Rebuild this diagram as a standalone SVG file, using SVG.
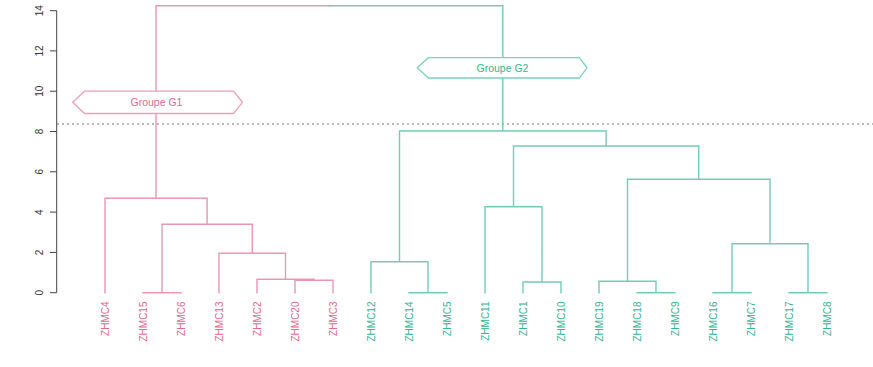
<svg xmlns="http://www.w3.org/2000/svg" width="873" height="367" viewBox="0 0 873 367">
<style>
text{font-family:"Liberation Sans",Arial,sans-serif}
.ax{stroke:#444;stroke-width:1;fill:none}
.tl{font-size:10px;fill:#333;text-anchor:middle}
.p{stroke:#ea97b0;stroke-width:1.4;fill:none;stroke-linecap:square}
.t{stroke:#72cbb6;stroke-width:1.4;fill:none;stroke-linecap:square}
.lp{font-size:10px;fill:#de6890;text-anchor:end}
.lt{font-size:10px;fill:#36b394;text-anchor:end}
.bp{fill:#fff;stroke:#ef9fb7;stroke-width:1.3}
.bt{fill:#fff;stroke:#7dd0bd;stroke-width:1.3}
.gp{font-size:10.5px;fill:#de6890;text-anchor:middle}
.gt{font-size:10.5px;fill:#36b394;text-anchor:middle}
</style>
<rect width="873" height="367" fill="#fff"/>
<g id="axis">
<path class="ax" d="M56.7,10.7V292.7M50,292.7H56.7M50,252.4H56.7M50,212.1H56.7M50,171.8H56.7M50,131.5H56.7M50,91.2H56.7M50,50.9H56.7M50,10.7H56.7"/>
<text class="tl" transform="translate(42.5,292.7) rotate(-90)">0</text>
<text class="tl" transform="translate(42.5,252.4) rotate(-90)">2</text>
<text class="tl" transform="translate(42.5,212.1) rotate(-90)">4</text>
<text class="tl" transform="translate(42.5,171.8) rotate(-90)">6</text>
<text class="tl" transform="translate(42.5,131.5) rotate(-90)">8</text>
<text class="tl" transform="translate(42.5,91.2) rotate(-90)">10</text>
<text class="tl" transform="translate(42.5,50.9) rotate(-90)">12</text>
<text class="tl" transform="translate(42.5,10.7) rotate(-90)">14</text>
</g>
<path id="cut" d="M57,124H873" stroke="#777" stroke-width="1.2" stroke-dasharray="2,3" fill="none"/>
<g id="connectors">
<path class="p" d="M156,5.7H329.4M156,5.7V198.3M105,198.3H207.1M105,198.3V292.7M207.1,198.3V224.3M162,224.3H252.3M162,224.3V292.7M143,292.7H181M252.3,224.3V253.3M219,253.3H285.5M219,253.3V292.7M285.5,253.3V279.3M257,279.3H314M257,279.3V292.7M314,279.3V280.3M295,280.3H333M295,280.3V292.7M333,280.3V292.7"/>
<path class="t" d="M329.4,5.7H502.8M502.8,5.7V131M399.5,131H606.1M399.5,131V261.7M371,261.7H428M371,261.7V292.7M428,261.7V292.7M409,292.7H447M606.1,131V146M513.5,146H698.7M513.5,146V206.7M485,206.7H542M485,206.7V292.7M542,206.7V282M523,282H561M523,282V292.7M561,282V292.7M698.7,146V179.3M627.5,179.3H770M627.5,179.3V281.3M599,281.3H656M599,281.3V292.7M656,281.3V292.7M637,292.7H675M770,179.3V243.7M732,243.7H808M732,243.7V292.7M808,243.7V292.7M713,292.7H751M789,292.7H827"/>
</g>
<g id="groupe-g1">
<polygon class="bp" points="72.7,102.3 84.5,91.2 233.5,91.2 242.5,102.3 233.5,113.5 84.5,113.5"/>
<text class="gp" x="156.5" y="106">Groupe G1</text>
</g>
<g id="groupe-g2">
<polygon class="bt" points="417.3,67.8 428.5,57.7 579.5,57.7 587,67.8 579.5,78 428.5,78"/>
<text class="gt" x="502.5" y="71.5">Groupe G2</text>
</g>
<g id="ZHMC4"><text class="lp" transform="translate(108.6,301.5) rotate(-90)">ZHMC4</text></g>
<g id="ZHMC15"><text class="lp" transform="translate(146.6,301.5) rotate(-90)">ZHMC15</text></g>
<g id="ZHMC6"><text class="lp" transform="translate(184.6,301.5) rotate(-90)">ZHMC6</text></g>
<g id="ZHMC13"><text class="lp" transform="translate(222.6,301.5) rotate(-90)">ZHMC13</text></g>
<g id="ZHMC2"><text class="lp" transform="translate(260.6,301.5) rotate(-90)">ZHMC2</text></g>
<g id="ZHMC20"><text class="lp" transform="translate(298.6,301.5) rotate(-90)">ZHMC20</text></g>
<g id="ZHMC3"><text class="lp" transform="translate(336.6,301.5) rotate(-90)">ZHMC3</text></g>
<g id="ZHMC12"><text class="lt" transform="translate(374.6,301.5) rotate(-90)">ZHMC12</text></g>
<g id="ZHMC14"><text class="lt" transform="translate(412.6,301.5) rotate(-90)">ZHMC14</text></g>
<g id="ZHMC5"><text class="lt" transform="translate(450.6,301.5) rotate(-90)">ZHMC5</text></g>
<g id="ZHMC11"><text class="lt" transform="translate(488.6,301.5) rotate(-90)">ZHMC11</text></g>
<g id="ZHMC1"><text class="lt" transform="translate(526.6,301.5) rotate(-90)">ZHMC1</text></g>
<g id="ZHMC10"><text class="lt" transform="translate(564.6,301.5) rotate(-90)">ZHMC10</text></g>
<g id="ZHMC19"><text class="lt" transform="translate(602.6,301.5) rotate(-90)">ZHMC19</text></g>
<g id="ZHMC18"><text class="lt" transform="translate(640.6,301.5) rotate(-90)">ZHMC18</text></g>
<g id="ZHMC9"><text class="lt" transform="translate(678.6,301.5) rotate(-90)">ZHMC9</text></g>
<g id="ZHMC16"><text class="lt" transform="translate(716.6,301.5) rotate(-90)">ZHMC16</text></g>
<g id="ZHMC7"><text class="lt" transform="translate(754.6,301.5) rotate(-90)">ZHMC7</text></g>
<g id="ZHMC17"><text class="lt" transform="translate(792.6,301.5) rotate(-90)">ZHMC17</text></g>
<g id="ZHMC8"><text class="lt" transform="translate(830.6,301.5) rotate(-90)">ZHMC8</text></g>
</svg>
